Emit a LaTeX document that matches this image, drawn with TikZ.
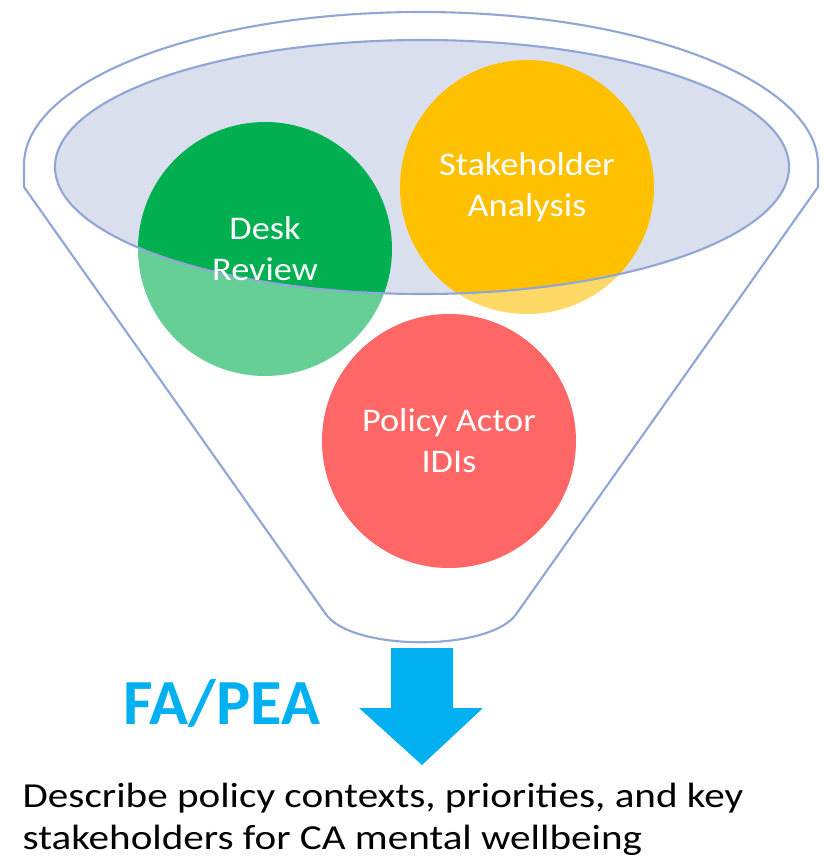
\documentclass[tikz,border=0pt]{standalone}
\usepackage{fontspec}
\setmainfont{Carlito}
\newfontfamily\widefont[FakeStretch=1.1]{Carlito}
\newfontfamily\captionfont[FakeStretch=1.17]{Carlito}

\definecolor{rimblue}{RGB}{143,166,214}
\definecolor{mouth}{RGB}{218,223,238}
\definecolor{deskgreen}{RGB}{0,176,80}
\definecolor{stakeyellow}{RGB}{255,192,0}
\definecolor{actorred}{RGB}{255,0,0}
\definecolor{fablue}{RGB}{0,176,240}

\tikzset{
  bubble/.style={circle, minimum size=2.54cm, inner sep=0pt},
  bubbletext/.style={align=center, text=white, font=\widefont\fontsize{9.4}{11.6}\selectfont},
}

\begin{document}
\begin{tikzpicture}
    \useasboundingbox (0,0) rectangle (8.25,-8.57);
    % mouth of the funnel
    \fill[mouth] (4.22,-1.67) ellipse (3.67 and 1.27);
    % the three sources
    \node[bubble, fill=deskgreen] (desk) at (2.65,-2.49) {};
    \node[bubble, fill=stakeyellow] (stake) at (5.27,-1.87) {};
    \node[bubble, fill=actorred] (actor) at (4.49,-4.41) {};
    % funnel body over the bubbles, open at the mouth
    \path[draw=rimblue, line width=0.6pt, fill=white, fill opacity=0.4, even odd rule]
        (0.24,-1.87) -- (0.24,-1.65)
        arc[start angle=180, end angle=0, x radius=3.97, y radius=1.53]
        -- (8.18,-1.87) -- (5.17,-6.13)
        .. controls (4.92,-6.52) and (3.50,-6.52) .. (3.25,-6.13) -- cycle
        (4.22,-1.67) ellipse (3.67 and 1.27);
    \node[bubbletext] (desklabel) at (desk) {Desk\\Review};
    \node[bubbletext] (stakelabel) at (stake) {Stakeholder\\Analysis};
    \node[bubbletext] (actorlabel) at (actor) {Policy Actor\\IDIs};
    % output arrow
    \fill[fablue] (3.91,-6.48) -- (4.53,-6.48) -- (4.53,-7.08) -- (4.83,-7.08)
        -- (4.22,-7.65) -- (3.59,-7.08) -- (3.91,-7.08) -- cycle;
    \node[text=fablue, font=\bfseries\fontsize{18.3}{22}\selectfont] (fapea) at (2.22,-7.03) {FA/PEA};
    \node[anchor=north west, align=left, inner sep=0pt, font=\captionfont\fontsize{10}{12.2}\selectfont]
        (result) at (0.22,-7.82) {Describe policy contexts, priorities, and key\\stakeholders for CA mental wellbeing};
\end{tikzpicture}
\end{document}
